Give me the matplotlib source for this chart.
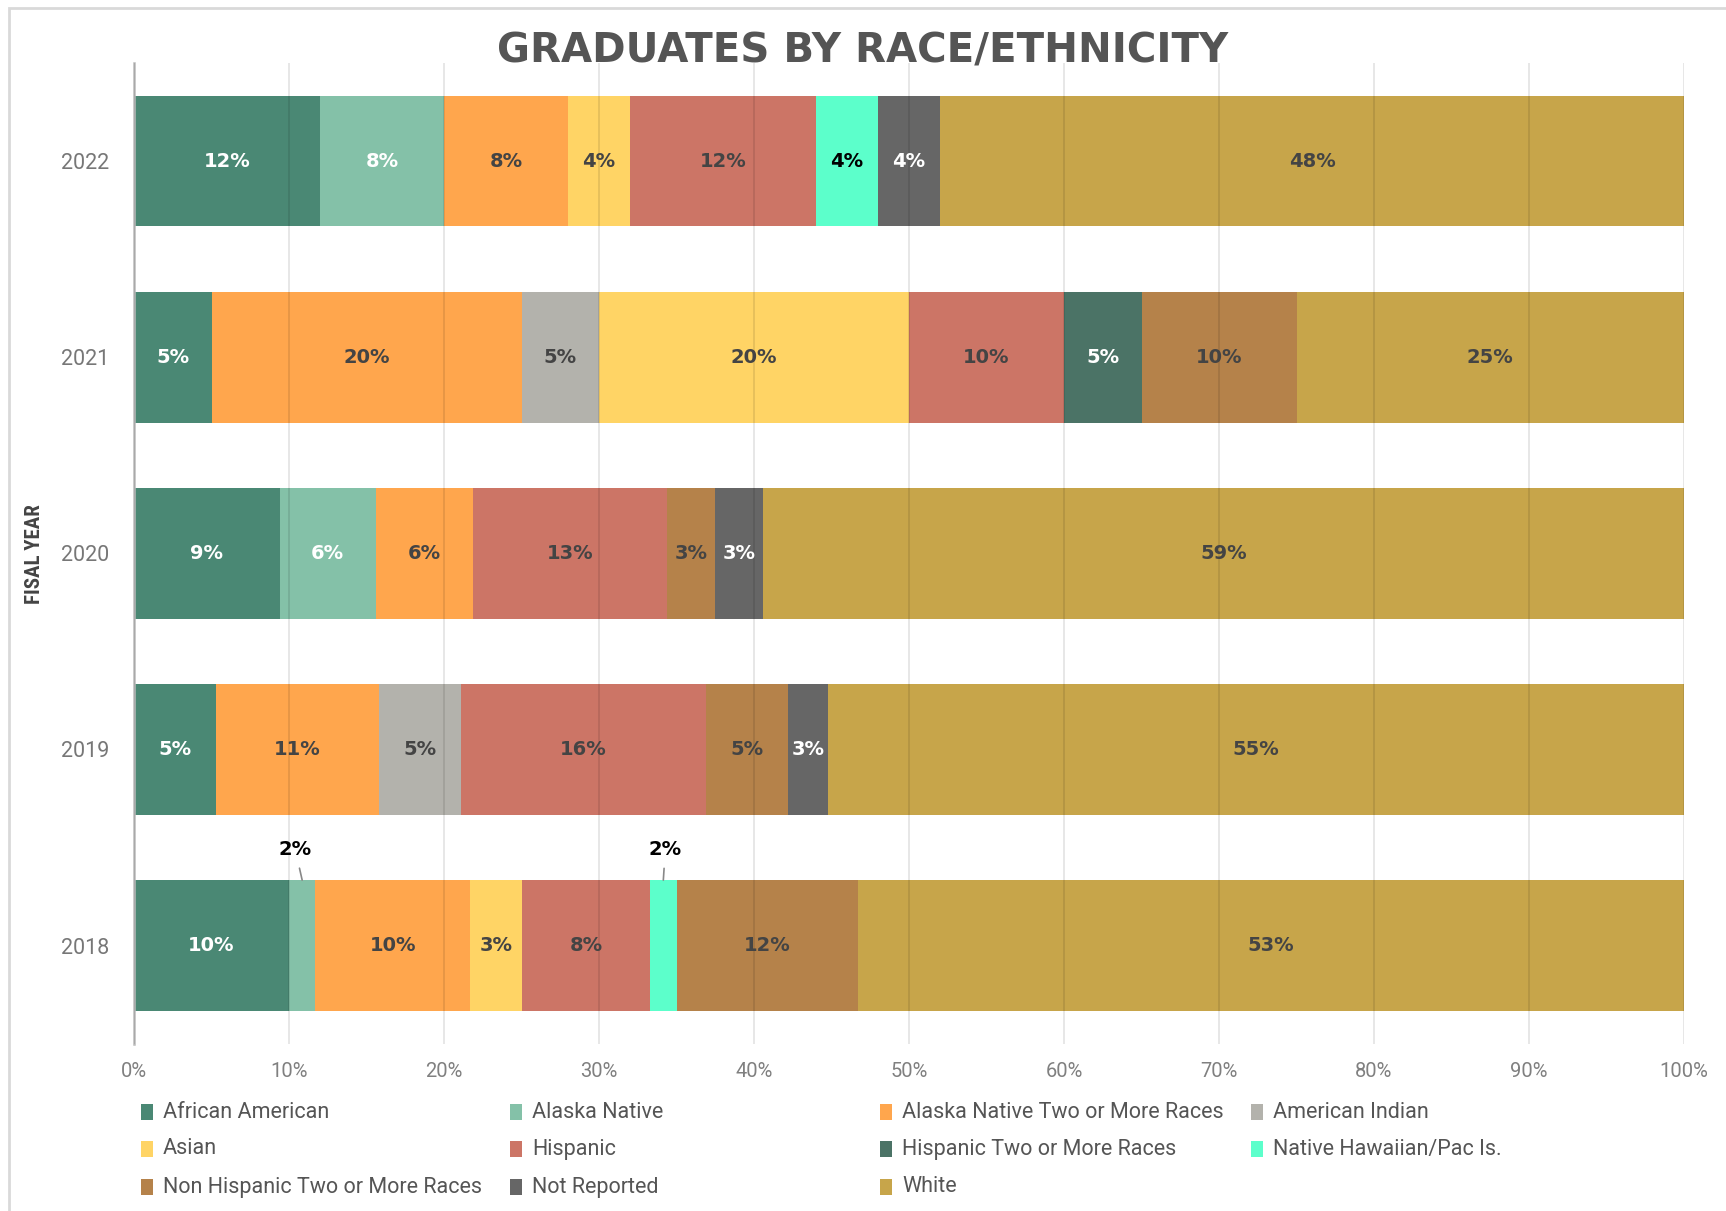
import matplotlib.pyplot as plt
from matplotlib.patches import Rectangle

# fiscal years, bottom to top
years = ["2018", "2019", "2020", "2021", "2022"]

categories = [
    "African American",
    "Alaska Native",
    "Alaska Native Two or More Races",
    "American Indian",
    "Asian",
    "Hispanic",
    "Hispanic Two or More Races",
    "Native Hawaiian/Pac Is.",
    "Non Hispanic Two or More Races",
    "Not Reported",
    "White",
]

# percent of graduates, per year (2018..2022)
african_american = [10.0, 5.3, 9.4, 5.0, 12.0]
alaska_native = [1.7, 0.0, 6.2, 0.0, 8.0]
alaska_native_multi = [10.0, 10.5, 6.3, 20.0, 8.0]
american_indian = [0.0, 5.3, 0.0, 5.0, 0.0]
asian = [3.3, 0.0, 0.0, 20.0, 4.0]
hispanic = [8.3, 15.8, 12.5, 10.0, 12.0]
hispanic_multi = [0.0, 0.0, 0.0, 5.0, 0.0]
native_hawaiian = [1.7, 0.0, 0.0, 0.0, 4.0]
non_hispanic_multi = [11.7, 5.3, 3.1, 10.0, 0.0]
not_reported = [0.0, 2.6, 3.1, 0.0, 4.0]
white = [53.3, 55.2, 59.4, 25.0, 48.0]

series = [african_american, alaska_native, alaska_native_multi, american_indian,
          asian, hispanic, hispanic_multi, native_hawaiian, non_hispanic_multi,
          not_reported, white]

colors = ["#4A8874", "#84C1A8", "#FFA64D", "#B3B2AC", "#FFD465", "#CC7566",
          "#4B7366", "#5CFFCB", "#B5824A", "#666666", "#C7A54A"]
# label colour inside each segment
label_colors = ["white", "white", "#444444", "#444444", "#444444", "#444444",
                "white", "black", "#444444", "white", "#444444"]

W, H = 1726, 1211
fig = plt.figure(figsize=(W / 100, H / 100), dpi=100)
ax = fig.add_axes([134 / W, 1 - 1043.6 / H, 1550 / W, (1043.6 - 63) / H])

# outer card border (only left and top visible)
fig.patches.append(Rectangle((9 / W, -0.2), 1.5, 1.2 - 8 / H, transform=fig.transFigure,
                             fill=False, edgecolor="#D9D9D9", linewidth=2))

bar_h = 0.667
ypos = list(range(len(years)))
left = [0.0] * len(years)
for vals, col, lcol in zip(series, colors, label_colors):
    ax.barh(ypos, vals, left=left, height=bar_h, color=col, edgecolor="none", zorder=1)
    for i, v in enumerate(vals):
        if v <= 0:
            continue
        cx = left[i] + v / 2
        txt = f"{int(v + 0.5)}%"
        if v < 2.5:
            # small slices get a callout above the bar
            dx = -7 if cx < 20 else 2
            ax.annotate(txt, xy=(cx, ypos[i] + bar_h / 2), xytext=(dx, 31),
                        textcoords="offset pixels", ha="center", va="center",
                        fontsize=14, fontweight="bold", color="black",
                        family=["DejaVu Sans"],
                        arrowprops=dict(arrowstyle="-", color="#888888", lw=1.2,
                                        shrinkA=5, shrinkB=0))
        else:
            ax.text(cx, ypos[i], txt, ha="center", va="center", fontsize=14,
                    fontweight="bold", color=lcol, family=["DejaVu Sans"], zorder=4)
    left = [a + b for a, b in zip(left, vals)]

ax.set_xlim(0, 100)
ax.set_ylim(-0.5, 4.5)
ax.set_xticks(range(0, 101, 10))
ax.set_xticklabels([f"{t}%" for t in range(0, 101, 10)])
ax.set_yticks(ypos)
ax.set_yticklabels(years)
ax.tick_params(axis="x", length=0, pad=13, labelsize=14.5, labelcolor="#808080")
ax.tick_params(axis="y", length=0, pad=18, labelsize=15.5, labelcolor="#777777")
for lab in ax.get_xticklabels() + ax.get_yticklabels():
    lab.set_family("Roboto")

ax.set_axisbelow(False)
ax.grid(axis="x", color="black", alpha=0.1, linewidth=1.3)
for s in ["top", "right", "bottom"]:
    ax.spines[s].set_visible(False)
ax.spines["left"].set_color("#BBBBBB")
ax.spines["left"].set_linewidth(1.8)

fig.text(0.5, 1 - 52 / H, "GRADUATES BY RACE/ETHNICITY", ha="center", va="center",
         fontsize=29, fontweight="bold", color="#555555", family=["DejaVu Sans"])
fig.text(35 / W, 1 - 554 / H, "FISAL YEAR", rotation=90, ha="center", va="center",
         fontsize=15, fontweight="bold", fontstretch="condensed", color="#444444",
         family=["Roboto Condensed", "DejaVu Sans"])

# legend, 4 fixed-width columns
col_x = [141, 510, 880, 1251]
row_y = [1112, 1149, 1187]
for k, (name, col) in enumerate(zip(categories, colors)):
    r, c = divmod(k, 4)
    x0, y0 = col_x[c], row_y[r]
    fig.patches.append(Rectangle((x0 / W, 1 - (y0 + 8) / H), 12 / W, 16 / H,
                                 transform=fig.transFigure, facecolor=col, edgecolor="none"))
    fig.text((x0 + 22) / W, 1 - y0 / H, name, ha="left", va="center", fontsize=15.5,
             color="#555555", family="Roboto")

fig.savefig("out.png", dpi=100)
